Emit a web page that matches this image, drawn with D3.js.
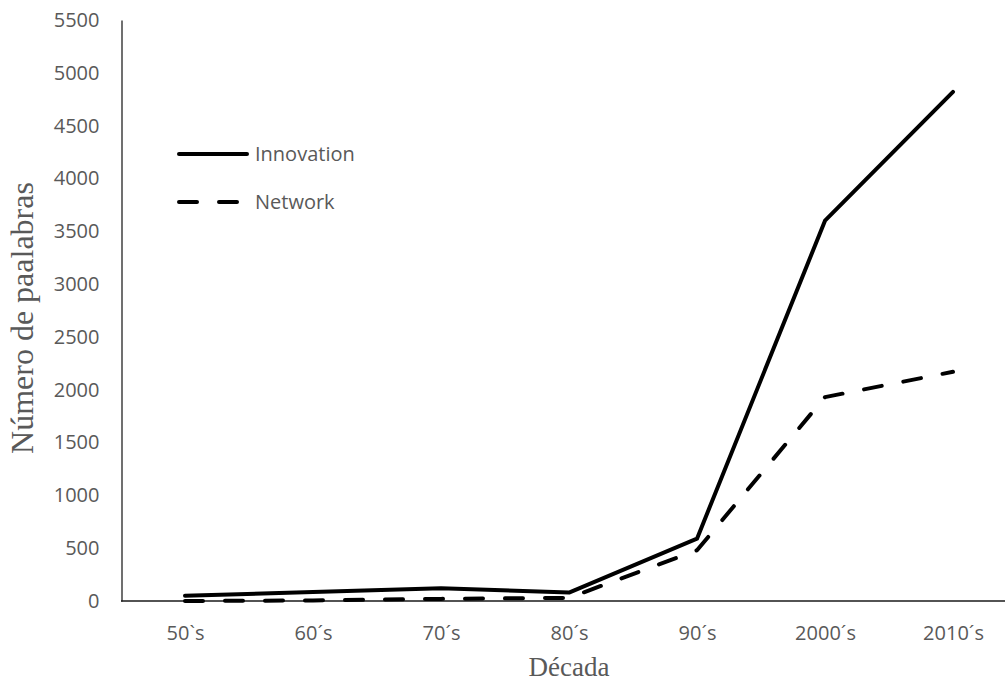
<!DOCTYPE html>
<html><head><meta charset="utf-8">
<script src="https://cdn.jsdelivr.net/npm/d3@7"></script>
<style>body{margin:0;background:#fff}svg{display:block}</style>
</head><body>
<svg id="c" width="1005" height="683"></svg>
<script>
const categories = ["50`s","60´s","70´s","80´s","90´s","2000´s","2010´s"];
const innovation = [50, 85, 120, 80, 590, 3600, 4820];
const network = [0, 5, 20, 30, 480, 1930, 2170];
const yTicks = [0,500,1000,1500,2000,2500,3000,3500,4000,4500,5000,5500];
const seriesNames = ["Innovation","Network"];

const svg = d3.select("#c");
const x = d3.scalePoint().domain(categories).range([185, 953]);
const y = d3.scaleLinear().domain([0,5500]).range([601, 20]);
const tickFont = "'Open Sans', sans-serif";

// y axis
const ya = svg.append("g").attr("transform","translate(121.5,0)")
  .call(d3.axisLeft(y).tickValues(yTicks).tickFormat(d3.format("d")).tickSize(0).tickPadding(22));
ya.select(".domain").attr("stroke","#404040").attr("stroke-width",1.5);
ya.selectAll("text").attr("font-family",tickFont).attr("font-size",20).attr("fill","#595959");

// x axis
const xa = svg.append("g").attr("transform","translate(0,601)")
  .call(d3.axisBottom(x).tickSize(0));
xa.select(".domain").attr("d","M121,0H1005").attr("stroke","#1a1a1a").attr("stroke-width",1.5);
xa.selectAll("text").attr("y",39).attr("dy",0)
  .attr("font-family",tickFont).attr("font-size",20).attr("fill","#595959");

const line = d3.line().x((d,i)=>x(categories[i])).y(d=>y(d));
svg.append("path").datum(innovation).attr("d",line).attr("fill","none")
  .attr("stroke","#000").attr("stroke-width",4).attr("stroke-linecap","round").attr("stroke-linejoin","round");
svg.append("path").datum(network).attr("d",line).attr("fill","none")
  .attr("stroke","#000").attr("stroke-width",4).attr("stroke-linecap","round").attr("stroke-linejoin","round")
  .attr("stroke-dasharray","18,22");

// legend
const lg = svg.append("g");
lg.append("line").attr("x1",179).attr("x2",247).attr("y1",154).attr("y2",154)
  .attr("stroke","#000").attr("stroke-width",4).attr("stroke-linecap","round");
lg.append("line").attr("x1",179).attr("x2",247).attr("y1",202).attr("y2",202)
  .attr("stroke","#000").attr("stroke-width",4).attr("stroke-linecap","round").attr("stroke-dasharray","18,22");
lg.selectAll("text.l").data(seriesNames).join("text")
  .attr("x",255).attr("y",(d,i)=>154+i*48).attr("dy","0.35em")
  .attr("font-family",tickFont).attr("font-size",20).attr("fill","#595959").text(d=>d);

// axis titles
svg.append("text").attr("x",569).attr("y",676).attr("text-anchor","middle")
  .attr("font-family","'Liberation Serif', serif").attr("font-size",27).attr("fill","#595959").text("Década");
svg.append("text").attr("transform","translate(33,318) rotate(-90)").attr("text-anchor","middle")
  .attr("font-family","'Liberation Serif', serif").attr("font-size",32).attr("fill","#595959").text("Número de paalabras");
</script>
</body></html>
